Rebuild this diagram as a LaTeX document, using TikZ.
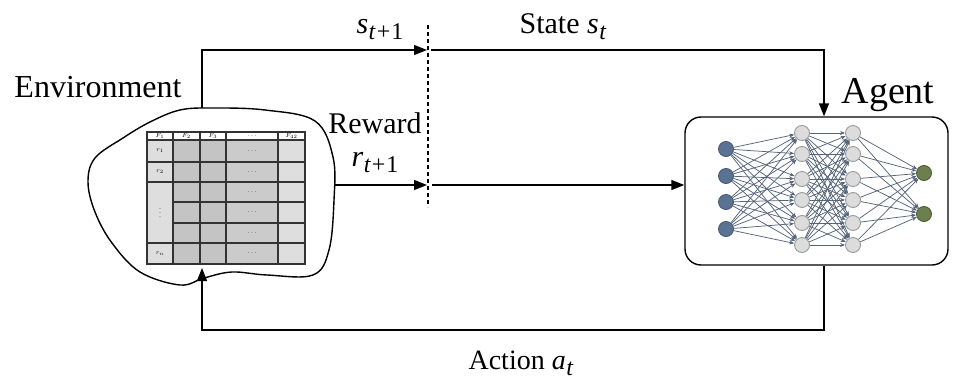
\documentclass[tikz,border=0pt]{standalone}
\usepackage{fontspec}
\setmainfont{Liberation Serif}
\usetikzlibrary{arrows.meta,calc}
\definecolor{inblue}{HTML}{5B7393}
\definecolor{inblueD}{HTML}{44597A}
\definecolor{hidgray}{HTML}{DCDCDC}
\definecolor{hidgrayD}{HTML}{9A9A9A}
\definecolor{outgreen}{HTML}{6E7F4F}
\definecolor{outgreenD}{HTML}{4D5C36}
\definecolor{wire}{HTML}{56657A}
\definecolor{cellL}{HTML}{DEDEDE}
\definecolor{cellD}{HTML}{C4C4C4}
\definecolor{cellM}{HTML}{CBCBCB}
% italic variable with a subscript, set in the text font
\newcommand\tvar[2]{\textit{#1}\kern0.5pt\raisebox{-6pt}{\fontsize{24}{26}\selectfont #2}}
\newcommand\tplus{\textit{t}\kern1pt+\kern1pt1}
\tikzset{
  flow/.style={line width=1.4pt,-{Triangle[length=13pt,width=10pt]}},
  lbl/.style={font=\fontsize{30}{33}\selectfont,inner sep=0pt},
  neuron/.style={circle,minimum size=15pt,inner sep=0pt,line width=0.9pt},
  wirestyle/.style={draw=wire,line width=0.75pt,-{Stealth[length=5pt,width=4pt]}},
  cell/.style={draw=black!80,line width=1.3pt},
  tiny/.style={font=\fontsize{6}{7}\selectfont,inner sep=0pt}
}
\begin{document}
\begin{tikzpicture}[x=1pt,y=-1pt]
\useasboundingbox (0,0) rectangle (953,383);

% ---- environment blob ----
\draw[line width=1.4pt] plot[smooth cycle,tension=0.6] coordinates {
  (180,110) (150,122) (123,138) (95,158) (88,182) (95,212) (112,243)
  (140,272) (180,285) (204,278) (232,272) (267,275) (313,275) (329,250)
  (334,200) (333,157) (315,121) (265,110) (213,108)};
\node[font=\fontsize{32}{35}\selectfont,inner sep=0pt,anchor=base] (envlabel) at (98,97) {Environment};
\coordinate (envtop) at (202,108);
\coordinate (envright) at (335,185);
\coordinate (envbottom) at (202,268);

% ---- data table ----
\def\cA{147}\def\cB{173}\def\cC{200}\def\cD{226}\def\cE{278}\def\cF{305}
% header row
\foreach \xa/\xb in {\cA/\cB,\cB/\cC,\cC/\cD,\cD/\cE,\cE/\cF}
  \filldraw[cell,fill=white] (\xa,132) rectangle (\xb,140);
% body rows
\foreach \ya/\yb in {140/162,162/182,182/202,202/223,223/243,243/264}{
  \filldraw[cell,fill=cellD] (\cB,\ya) rectangle (\cC,\yb);
  \filldraw[cell,fill=cellD] (\cC,\ya) rectangle (\cD,\yb);
  \filldraw[cell,fill=cellM] (\cD,\ya) rectangle (\cE,\yb);
  \filldraw[cell,fill=cellL] (\cE,\ya) rectangle (\cF,\yb);
  \node[tiny] at (252,{(\ya+\yb)/2}) {$\cdots$};
}
\filldraw[cell,fill=cellL] (\cA,140) rectangle (\cB,162);
\filldraw[cell,fill=cellL] (\cA,162) rectangle (\cB,182);
\filldraw[cell,fill=cellL] (\cA,182) rectangle (\cB,243);
\filldraw[cell,fill=cellL] (\cA,243) rectangle (\cB,264);
\node[tiny] (h1) at (160,136) {$F_1$};
\node[tiny] (h2) at (186.5,136) {$F_2$};
\node[tiny] (h3) at (213,136) {$F_3$};
\node[tiny] (h4) at (252,136) {$\cdots$};
\node[tiny] (h5) at (291.5,136) {$F_{42}$};
\node[tiny] (r1) at (160,151) {$r_1$};
\node[tiny] (r2) at (160,172) {$r_2$};
\node[tiny] (rd) at (160,210) {$\vdots$};
\node[tiny] (rn) at (160,253.5) {$r_n$};

% ---- agent ----
\node[draw,line width=1.4pt,rounded corners=16pt,minimum width=263pt,
      minimum height=148pt,inner sep=0pt] (agent) at (816.5,191) {};
\node[font=\fontsize{38}{42}\selectfont,inner sep=0pt,anchor=base] (agentlabel) at (888,103) {Agent};

% neural network
\foreach \y [count=\i] in {149,176,202,229}
  \node[neuron,fill=inblue,draw=inblueD] (a\i) at (726,\y) {};
\foreach \y [count=\i] in {133,154,179,200,223,245}{
  \node[neuron,fill=hidgray,draw=hidgrayD] (b\i) at (802,\y) {};
  \node[neuron,fill=hidgray,draw=hidgrayD] (c\i) at (853,\y) {};
}
\foreach \y [count=\i] in {173,214}
  \node[neuron,fill=outgreen,draw=outgreenD] (d\i) at (924,\y) {};
\foreach \i in {1,...,4}\foreach \j in {1,...,6}
  \draw[wirestyle] (a\i) -- (b\j);
\foreach \i in {1,...,6}\foreach \j in {1,...,6}
  \draw[wirestyle] (b\i) -- (c\j);
\foreach \i in {1,...,6}\foreach \j in {1,2}
  \draw[wirestyle] (c\i) -- (d\j);

% ---- time boundary ----
\coordinate (dtop) at (428,25);
\coordinate (dbot) at (428,207);
\draw[line width=1.1pt,dash pattern=on 4pt off 3pt] (dtop) -- (dbot);

% ---- state ----
\coordinate (sA) at (202,50);
\coordinate (sB) at (427,50);
\coordinate (sC) at (431,50);
\coordinate (sD) at (824,50);
\draw[flow] (envtop) -- (sA) -- (sB);
\draw[flow] (sC) -- (sD) -- (agent.north -| sD);
\node[lbl,anchor=base] (snext) at (380,33) {\tvar{s}{\tplus}};
\node[lbl,anchor=base] (state) at (563,33) {State \tvar{s}{\textit{t}}};

% ---- reward ----
\coordinate (rB) at (427,185);
\coordinate (rC) at (432,185);
\draw[flow] (envright) -- (rB);
\draw[flow] (rC) -- (agent.west |- rC);
\node[lbl,anchor=base] (reward) at (375,133) {Reward};
\node[lbl,anchor=base] (rnext) at (375,166) {\tvar{r}{\tplus}};

% ---- action ----
\coordinate (aA) at (824,330);
\coordinate (aB) at (202,330);
\draw[flow] (agent.south -| aA) -- (aA) -- (aB) -- (envbottom);
\node[font=\fontsize{28}{31}\selectfont,inner sep=0pt,anchor=base] (action) at (521,369) {Action \tvar{a}{\textit{t}}};
\end{tikzpicture}
\end{document}
